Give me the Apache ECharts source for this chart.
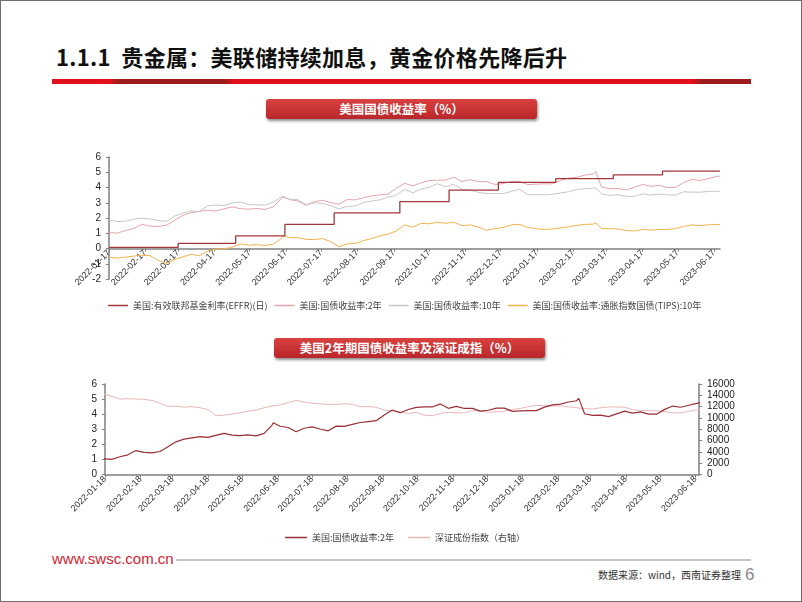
<!DOCTYPE html>
<html>
<head>
<meta charset="utf-8">
<script src="https://cdn.jsdelivr.net/npm/echarts@6/dist/echarts.min.js"></script>
<style>
  html, body { margin: 0; padding: 0; background: #fff; }
  #page { position: relative; width: 802px; height: 602px; box-sizing: border-box; border: 1px solid #6f6f6f; overflow: hidden; font-family: "Noto Sans CJK SC", "Liberation Sans", sans-serif; }
  .title { position: absolute; left: 55px; top: 39px; font-size: 22px; font-weight: bold; color: #111; letter-spacing: 0.3px; white-space: nowrap; }
  .redbar { position: absolute; left: 51px; top: 78px; width: 699px; height: 5px;
    background: linear-gradient(to right, #e2101c 0, #e2101c 58px, #9c1b1d 66px, #9c1b1d 172px, #e2101c 182px, #e2101c 640px, #9c1b1d 650px, #9c1b1d 100%); }
  .box { position: absolute; height: 20px; border-radius: 3px; color: #fff; font-size: 12.5px; font-weight: bold; text-align: center; line-height: 20px;
    background: linear-gradient(#d9413f, #b9262a); box-shadow: 1px 2px 3px rgba(0,0,0,0.45); white-space: nowrap; }
  .chart { position: absolute; left: 0; width: 802px; }
  .site { position: absolute; left: 51px; top: 549px; font-family: "Liberation Sans", Arial, sans-serif; font-size: 15px; color: #d2232e; }
  .rule { position: absolute; left: 175px; top: 558px; width: 575px; height: 2px; background: #c4c4c4; }
  .src { position: absolute; left: 597px; top: 566px; font-size: 10px; color: #333; white-space: nowrap; }
  .pg { position: absolute; left: 744px; top: 564px; font-family: "Liberation Sans", Arial, sans-serif; font-size: 17px; color: #8a8a8a; }
</style>
</head>
<body>
<div id="page">
  <div class="title">1.1.1&nbsp;&nbsp;贵金属：美联储持续加息，黄金价格先降后升</div>
  <div class="redbar"></div>
  <div class="box" style="left:265px;top:98px;width:271px;">美国国债收益率（%）</div>
  <div id="c1" class="chart" style="top:130px;height:190px;"></div>
  <div class="box" style="left:273px;top:337px;width:271px;">美国2年期国债收益率及深证成指（%）</div>
  <div id="c2" class="chart" style="top:360px;height:185px;"></div>
  <div class="site">www.swsc.com.cn</div>
  <div class="rule"></div>
  <div class="src">数据来源：wind，西南证券整理</div>
  <div class="pg">6</div>
</div>
<script>
// weekly observation dates (plus a couple of spike days)
var dates = [
  '2022-01-17','2022-01-24','2022-01-31','2022-02-07','2022-02-14','2022-02-21','2022-02-28',
  '2022-03-07','2022-03-14','2022-03-21','2022-03-28','2022-04-04','2022-04-11','2022-04-18','2022-04-25',
  '2022-05-02','2022-05-09','2022-05-16','2022-05-23','2022-05-30','2022-06-06','2022-06-13','2022-06-14','2022-06-20','2022-06-27',
  '2022-07-04','2022-07-11','2022-07-18','2022-07-25','2022-08-01','2022-08-08','2022-08-15','2022-08-22','2022-08-29',
  '2022-09-05','2022-09-12','2022-09-19','2022-09-26','2022-10-03','2022-10-10','2022-10-17','2022-10-24','2022-10-31',
  '2022-11-07','2022-11-14','2022-11-21','2022-11-28','2022-12-05','2022-12-12','2022-12-19','2022-12-26',
  '2023-01-02','2023-01-09','2023-01-16','2023-01-23','2023-01-30','2023-02-06','2023-02-13','2023-02-20','2023-02-27',
  '2023-03-06','2023-03-08','2023-03-13','2023-03-20','2023-03-27','2023-04-03','2023-04-10','2023-04-17','2023-04-24',
  '2023-05-01','2023-05-08','2023-05-15','2023-05-22','2023-05-29','2023-06-05','2023-06-12','2023-06-19','2023-06-22'
];
var ust2y = [
  1.04,1.01,1.18,1.31,1.59,1.47,1.44,
  1.53,1.85,2.17,2.35,2.43,2.51,2.46,2.60,
  2.73,2.61,2.58,2.63,2.56,2.73,3.28,3.43,3.20,3.12,
  2.84,3.07,3.16,3.02,2.90,3.21,3.19,3.33,3.45,
  3.51,3.57,3.95,4.28,4.10,4.31,4.45,4.48,4.48,
  4.68,4.39,4.52,4.38,4.39,4.20,4.26,4.40,
  4.40,4.19,4.22,4.24,4.24,4.47,4.62,4.67,4.81,
  4.89,5.05,4.03,3.92,3.94,3.84,4.02,4.20,4.07,
  4.15,4.00,4.00,4.32,4.54,4.46,4.59,4.72,4.75
];
var ust10y = [
  1.87,1.77,1.79,1.92,1.99,1.93,1.83,
  1.78,2.13,2.32,2.46,2.42,2.79,2.85,2.81,
  2.99,3.05,2.88,2.86,2.85,3.04,3.37,3.48,3.23,3.20,
  2.88,2.99,2.96,2.81,2.60,2.76,2.79,3.02,3.11,
  3.19,3.36,3.49,3.88,3.65,3.90,4.01,4.25,4.05,
  4.21,3.88,3.83,3.68,3.60,3.61,3.59,3.75,
  3.88,3.53,3.53,3.52,3.55,3.64,3.72,3.88,3.92,
  3.96,3.98,3.57,3.48,3.53,3.43,3.41,3.59,3.50,
  3.57,3.51,3.50,3.72,3.70,3.69,3.74,3.76,3.74
];
var tips10y = [
  -0.57,-0.63,-0.57,-0.50,-0.44,-0.47,-0.78,
  -0.98,-0.72,-0.55,-0.38,-0.48,-0.17,-0.03,-0.03,
  0.08,0.30,0.22,0.25,0.20,0.28,0.65,0.85,0.71,0.71,
  0.60,0.58,0.65,0.45,0.12,0.30,0.33,0.52,0.65,
  0.83,0.95,1.15,1.55,1.40,1.65,1.62,1.72,1.65,
  1.73,1.50,1.55,1.40,1.20,1.30,1.38,1.55,
  1.58,1.38,1.30,1.25,1.28,1.35,1.42,1.52,1.58,
  1.60,1.68,1.30,1.30,1.28,1.18,1.15,1.25,1.20,
  1.25,1.25,1.30,1.45,1.55,1.50,1.55,1.58,1.55
];
var szIndex = [
  14270,13800,13330,13400,13350,13300,13100,
  12600,12000,12100,11900,12000,11800,11500,10400,
  10500,10700,10900,11200,11400,11800,12100,12150,12300,12700,
  13100,12800,12600,12500,12400,12400,12500,12400,12000,
  12000,11900,11400,11200,11000,10800,11000,10500,10400,
  10800,11000,10900,10900,11300,11200,11000,11100,
  11200,11500,11700,12000,12200,12200,12100,12150,11950,
  11850,11750,11650,11600,11800,11950,11950,11900,11450,
  11350,11300,11250,11100,10900,10900,11150,11450,11500
];
// EFFR: value holds from each date until the next hike
var effrDates = ['2022-01-17','2022-03-17','2022-05-05','2022-06-16','2022-07-28','2022-09-22',
                 '2022-11-03','2022-12-15','2023-02-02','2023-03-23','2023-05-04','2023-06-22'];
var effr = [0.08,0.33,0.83,1.58,2.33,3.08,3.83,4.33,4.58,4.83,5.08,5.08];

var ticks1 = ['2022-01-17','2022-02-17','2022-03-17','2022-04-17','2022-05-17','2022-06-17','2022-07-17','2022-08-17','2022-09-17',
              '2022-10-17','2022-11-17','2022-12-17','2023-01-17','2023-02-17','2023-03-17','2023-04-17','2023-05-17','2023-06-17'];
var ticks2 = ['2022-01-18','2022-02-18','2022-03-18','2022-04-18','2022-05-18','2022-06-18','2022-07-18','2022-08-18','2022-09-18',
              '2022-10-18','2022-11-18','2022-12-18','2023-01-18','2023-02-18','2023-03-18','2023-04-18','2023-05-18','2023-06-18'];

var names1 = ['美国:有效联邦基金利率(EFFR)(日)','美国:国债收益率:2年','美国:国债收益率:10年','美国:国债收益率:通胀指数国债(TIPS):10年'];
var names2 = ['美国:国债收益率:2年','深证成份指数（右轴）'];

// dates are turned into day numbers so a plain value axis can place them
var DAY = 86400000;
function dayNo(d) { var p = d.split('-'); return Date.UTC(+p[0], +p[1] - 1, +p[2]) / DAY; }
function pair(xs, ys) { return xs.map(function (d, i) { return [dayNo(d), ys[i]]; }); }
function fmt(v) {
  var t = new Date(Math.round(v) * DAY);
  var m = t.getUTCMonth() + 1, dd = t.getUTCDate();
  return t.getUTCFullYear() + '-' + (m < 10 ? '0' : '') + m + '-' + (dd < 10 ? '0' : '') + dd;
}

var axisCol = '#808080';
var numFont = { fontFamily: 'Liberation Sans, Arial, sans-serif', fontSize: 10, color: '#222' };
var dateFont = { fontFamily: 'Liberation Sans, Arial, sans-serif', fontSize: 9, color: '#333' };
var legendFont = { fontFamily: 'Noto Sans CJK SC', fontSize: 9, color: '#444' };

// offset lifts the date axis from the grid bottom up to the zero line
function dateAxis(minD, maxD, ticks, offset) {
  var tv = ticks.map(dayNo);
  return {
    type: 'value', min: dayNo(minD), max: dayNo(maxD), scale: true, offset: offset,
    axisLine: { onZero: false, lineStyle: { color: axisCol, width: 1.5 } },
    axisTick: { show: true, length: 3, customValues: tv, lineStyle: { color: axisCol } },
    axisLabel: Object.assign({ rotate: 45, margin: 3, customValues: tv, formatter: fmt, hideOverlap: false }, dateFont),
    splitLine: { show: false }
  };
}
function valAxis(min, max, step, pos) {
  return {
    type: 'value', min: min, max: max, interval: step, position: pos,
    axisLine: { show: true, onZero: false, lineStyle: { color: axisCol, width: 1.5 } },
    axisTick: { show: true, length: 3, lineStyle: { color: axisCol } },
    axisLabel: Object.assign({ margin: 8, formatter: function (v) { return String(v); } }, numFont),
    splitLine: { show: false }
  };
}
function line(name, data, color, w, extra) {
  return Object.assign({ name: name, type: 'line', data: data, symbol: 'none', showSymbol: false, animation: false,
    lineStyle: { color: color, width: w }, itemStyle: { color: color } }, extra || {});
}

var chart1 = echarts.init(document.getElementById('c1'));
chart1.setOption({
  backgroundColor: 'transparent',
  animation: false,
  grid: { left: 108, top: 26, width: 611, height: 122, outerBoundsMode: 'none' },
  legend: { data: names1, left: 102, top: 165, icon: 'rect', itemWidth: 20, itemHeight: 1.5, itemGap: 7, textStyle: legendFont },
  xAxis: dateAxis('2022-01-17', '2023-06-22', ticks1, -30.5),
  yAxis: valAxis(-2, 6, 1, 'left'),
  series: [
    line(names1[1], pair(dates, ust2y), '#e5a3ab', 1),
    line(names1[2], pair(dates, ust10y), '#c6c6c6', 1),
    line(names1[3], pair(dates, tips10y), '#f2b24e', 1),
    line(names1[0], pair(effrDates, effr), '#a0383c', 1.3, { step: 'end' })
  ]
});

var chart2 = echarts.init(document.getElementById('c2'));
chart2.setOption({
  backgroundColor: 'transparent',
  animation: false,
  grid: { left: 104, top: 23, width: 594, height: 90.6, outerBoundsMode: 'none' },
  legend: { data: names2, left: 279, top: 167, icon: 'rect', itemWidth: 22, itemHeight: 1.5, itemGap: 14, textStyle: legendFont },
  xAxis: dateAxis('2022-01-18', '2023-06-21', ticks2, 0),
  yAxis: [valAxis(0, 6, 1, 'left'), valAxis(0, 16000, 2000, 'right')],
  series: [
    line(names2[1], pair(dates, szIndex), '#e9b6b8', 1, { yAxisIndex: 1 }),
    line(names2[0], pair(dates, ust2y), '#9a3035', 1.2, { yAxisIndex: 0, z: 3 })
  ]
});
</script>
</body>
</html>
